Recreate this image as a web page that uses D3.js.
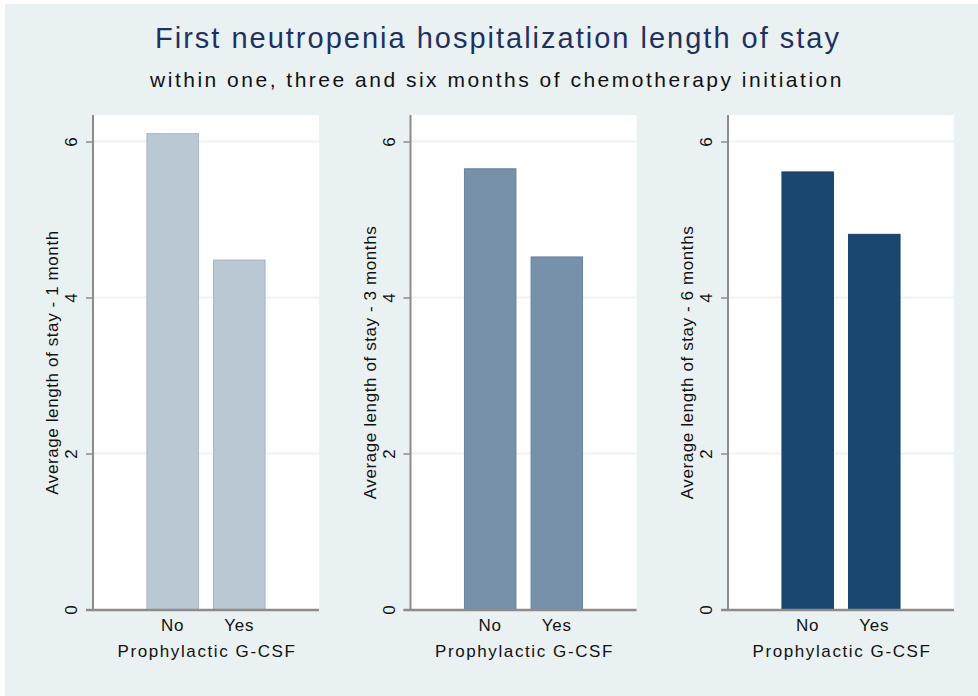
<!DOCTYPE html>
<html>
<head>
<meta charset="utf-8">
<script src="https://cdn.jsdelivr.net/npm/d3@7"></script>
<style>
  body { margin: 0; background: #fff; }
  text { font-family: "Liberation Sans", Arial, sans-serif; }
</style>
</head>
<body>
<script>
// chart values
var groups = ["No", "Yes"];
var stay1m = [6.1, 4.48];
var stay3m = [5.65, 4.52];
var stay6m = [5.61, 4.81];
var yTicks = [0, 2, 4, 6];
var panelTitles = ["Average length of stay - 1 month", "Average length of stay - 3 months", "Average length of stay - 6 months"];
var fills = ["#bac8d4", "#7691a9", "#1a476f"];
var strokes = ["#a2b4c5", "#6681a0", "#18426a"];

var W = 978, H = 696;
var svg = d3.select("body").append("svg").attr("width", W).attr("height", H);

svg.append("rect").attr("x", 5).attr("y", 4).attr("width", W - 5).attr("height", H - 4).attr("fill", "#eaf1f3");

svg.append("text").attr("x", 498).attr("y", 48).attr("text-anchor", "middle")
  .style("font-size", "29px").style("letter-spacing", "2px").attr("fill", "#1e3160")
  .text("First neutropenia hospitalization length of stay");
svg.append("text").attr("x", 497).attr("y", 87).attr("text-anchor", "middle")
  .style("font-size", "21px").style("letter-spacing", "2.5px").attr("fill", "#111")
  .text("within one, three and six months of chemotherapy initiation");

var panels = [stay1m, stay3m, stay6m];
var px = d3.scaleLinear().domain([0, 2]).range([93, 728]);
var plotTop = 115, base = 610, plotW = 226;

var y = d3.scaleLinear().domain([0, 6]).range([609.5, 141.5]);

panels.forEach(function(vals, i) {
  var x0 = px(i);
  var g = svg.append("g");
  g.append("rect").attr("x", x0).attr("y", plotTop).attr("width", plotW).attr("height", base - plotTop).attr("fill", "#fff");

  // gridlines
  g.selectAll(".grid").data(yTicks.slice(1)).enter().append("line")
    .attr("x1", x0).attr("x2", x0 + plotW)
    .attr("y1", function(d) { return y(d); }).attr("y2", function(d) { return y(d); })
    .attr("stroke", "#eef4f5").attr("stroke-width", 2);

  var x = d3.scaleBand().domain(groups).range([x0, x0 + plotW]).paddingInner(0.227).paddingOuter(0.81);

  g.selectAll(".bar").data(vals).enter().append("rect")
    .attr("x", function(d, j) { return x(groups[j]); })
    .attr("width", x.bandwidth())
    .attr("y", function(d) { return y(d); })
    .attr("height", function(d) { return y(0) - y(d); })
    .attr("fill", fills[i]).attr("stroke", strokes[i]).attr("stroke-width", 1);

  // y axis
  var ax = g.append("g").attr("transform", "translate(" + x0 + ",0)")
    .call(d3.axisLeft(y).tickValues(yTicks).tickSize(7).tickFormat(d3.format("d")));
  ax.select(".domain").attr("d", "M0," + plotTop + "V" + base).attr("stroke", "#8c8c8c").attr("stroke-width", 2);
  ax.selectAll(".tick line").attr("stroke", "#8c8c8c").attr("stroke-width", 1.5);
  ax.selectAll(".tick text").style("font-size", "17px").attr("fill", "#111")
    .attr("transform", "rotate(-90)").attr("x", 0).attr("y", -16).attr("dy", 0).attr("text-anchor", "middle");

  // baseline
  g.append("line").attr("x1", x0 - 7).attr("x2", x0 + plotW).attr("y1", base).attr("y2", base)
    .attr("stroke", "#8c8c8c").attr("stroke-width", 2.5);

  // x labels
  g.selectAll(".xl").data(groups).enter().append("text")
    .attr("x", function(d) { return x(d) + x.bandwidth() / 2; }).attr("y", 631)
    .attr("text-anchor", "middle").style("font-size", "17px").style("letter-spacing", "0.8px").attr("fill", "#111")
    .text(function(d) { return d; });
  g.append("text").attr("x", x0 + 114).attr("y", 657).attr("text-anchor", "middle")
    .style("font-size", "17px").style("letter-spacing", "1.6px").attr("fill", "#111").text("Prophylactic G-CSF");

  g.append("text").attr("transform", "translate(" + (x0 - 35) + "," + ((plotTop + base) / 2) + ") rotate(-90)")
    .attr("text-anchor", "middle").style("font-size", "17px").style("letter-spacing", "0.6px").attr("fill", "#111")
    .text(panelTitles[i]);
});
</script>
</body>
</html>
